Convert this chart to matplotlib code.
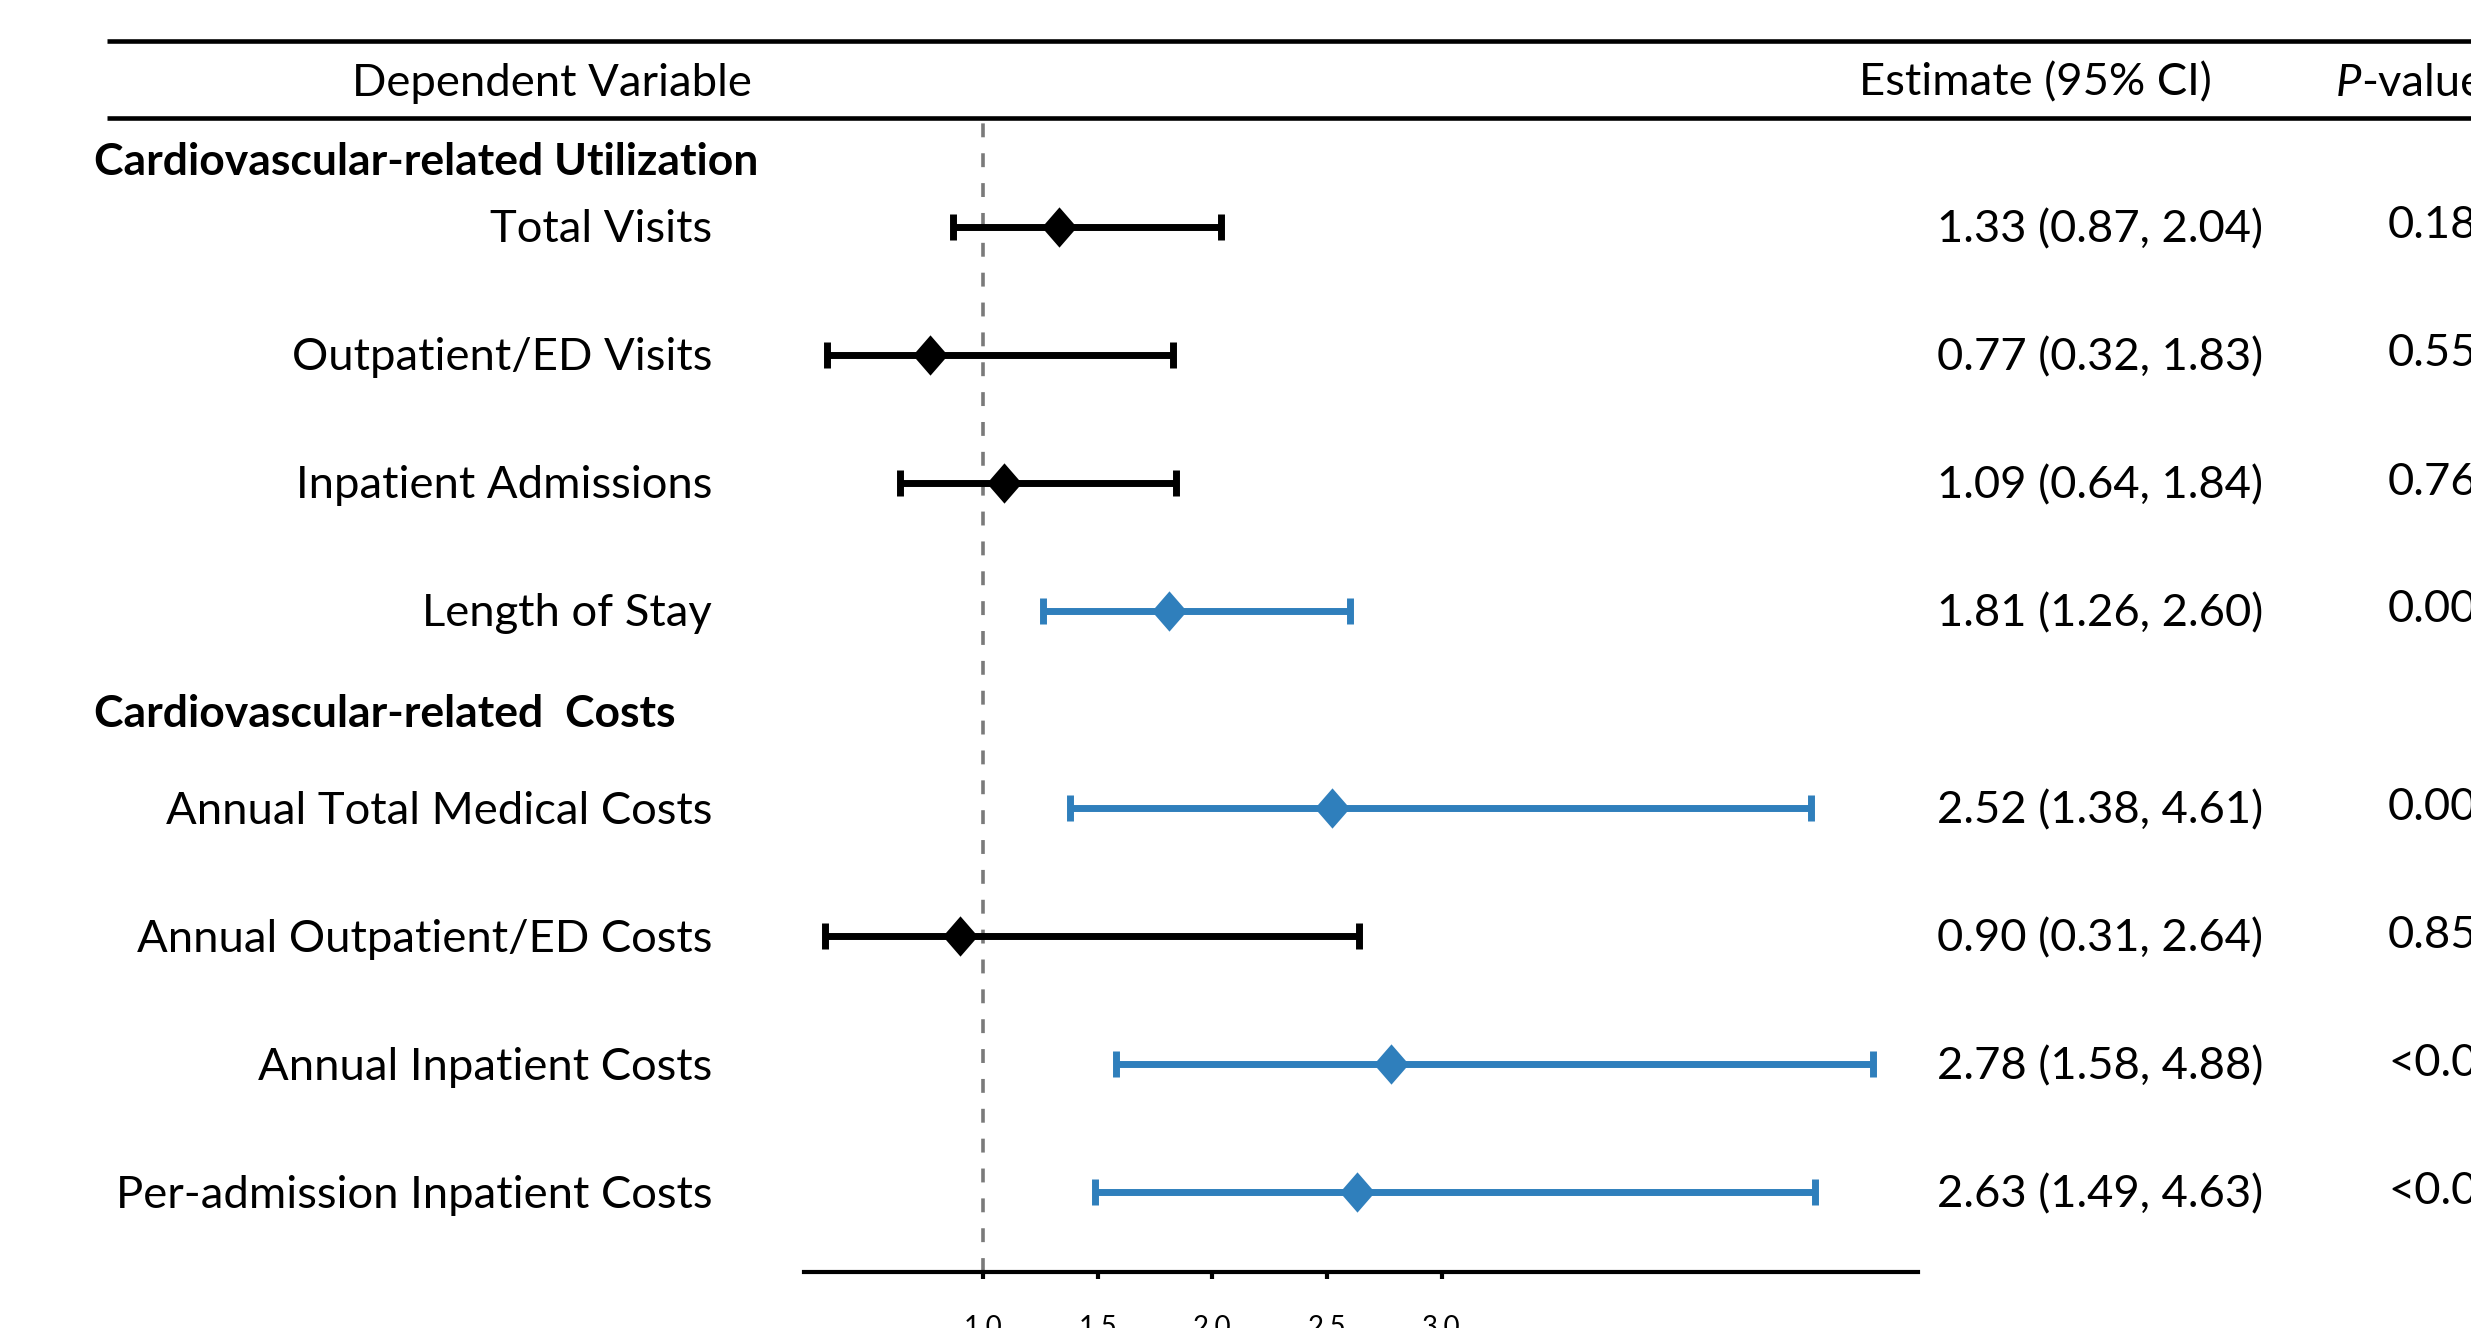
import matplotlib
matplotlib.use("Agg")
import matplotlib.pyplot as plt
from matplotlib.lines import Line2D

# ---- data -------------------------------------------------------------
util_labels = ["Total Visits", "Outpatient/ED Visits", "Inpatient Admissions",
               "Length of Stay"]
util_est = [1.33, 0.77, 1.09, 1.81]
util_lo = [0.87, 0.32, 0.64, 1.26]
util_hi = [2.04, 1.83, 1.84, 2.60]
util_p = ["0.18", "0.55", "0.76", "0.001"]

cost_labels = ["Annual Total Medical Costs", "Annual Outpatient/ED Costs",
               "Annual Inpatient Costs", "Per-admission Inpatient Costs"]
cost_est = [2.52, 0.90, 2.78, 2.63]
cost_lo = [1.38, 0.31, 1.58, 1.49]
cost_hi = [4.61, 2.64, 4.88, 4.63]
cost_p = ["0.003", "0.85", "<0.001", "<0.001"]

x_ticks = [1.0, 1.5, 2.0, 2.5, 3.0]
x_tick_labels = ["1.0", "1.5", "2.0", "2.5", "3.0"]
null_value = 1.0

group_titles = ["Cardiovascular-related Utilization", "Cardiovascular-related  Costs"]
col_headers = ["Dependent Variable", "Estimate (95% CI)", "-value"]

# ---- layout (pixel units) ----------------------------------------------
W, H, DPI = 2471, 1328, 100
FONT = "Lato"
FS = 32.7
FS_BOLD = 32.0
TXT_DY = 3          # small downward nudge so glyphs sit on the bar centres
BLACK = "#000000"
BLUE = "#2F7FBC"

plt.rcParams["font.family"] = [FONT, "DejaVu Sans"]
plt.rcParams["lines.scale_dashes"] = False

fig = plt.figure(figsize=(W / DPI, H / DPI), dpi=DPI)
fig.patch.set_facecolor("white")


def fx(x):
    return x / W


def fy(y):
    return 1 - y / H


ax_left, ax_right, ax_top, ax_bottom = 804, 1918, 117, 1272
ax = fig.add_axes([fx(ax_left), fy(ax_bottom), fx(ax_right - ax_left),
                   (ax_bottom - ax_top) / H])
px_per_unit = 229.3
x_at_null = 983
ax.set_xlim(null_value - (x_at_null - ax_left) / px_per_unit,
            null_value + (ax_right - x_at_null) / px_per_unit)
ax.set_ylim(ax_bottom, ax_top)

for s in ("top", "left", "right"):
    ax.spines[s].set_visible(False)
ax.spines["bottom"].set_linewidth(3.0)
ax.set_yticks([])
ax.set_xticks(x_ticks)
ax.set_xticklabels(x_tick_labels)
ax.tick_params(axis="x", direction="out", length=5, width=3, pad=26,
               labelsize=20)
ax.patch.set_alpha(0)

ax.axvline(null_value, color="#7A7A7A", lw=2.6, ls=(0, (10, 11.5)), zorder=1)

# row positions
step = 128
util_y = [227 + i * step for i in range(len(util_labels))]
cost_y = [808 + i * step for i in range(len(cost_labels))]
group_y = [159, 711]

diamond = [(0, 1), (0.87, 0), (0, -1), (-0.87, 0), (0, 1)]


def draw_rows(labels, est, lo, hi, pvals, ys):
    for lab, e, l, h, p, y in zip(labels, est, lo, hi, pvals, ys):
        color = BLUE if (l > null_value or h < null_value) else BLACK
        ax.errorbar([e], [y], xerr=[[e - l], [h - e]], fmt="none",
                    ecolor=color, elinewidth=5, capsize=9.4, capthick=5,
                    zorder=3)
        ax.plot([e], [y], marker=diamond, ms=29, color=color, mew=0,
                ls="none", zorder=4)
        ty = y + TXT_DY
        fig.text(fx(712), fy(ty), lab, ha="right", va="center", fontsize=FS)
        fig.text(fx(1937), fy(ty), f"{e:.2f} ({l:.2f}, {h:.2f})",
                 ha="left", va="center", fontsize=FS)
        fig.text(fx(2388), fy(ty - 4), p, ha="left", va="center", fontsize=FS)


draw_rows(util_labels, util_est, util_lo, util_hi, util_p, util_y)
draw_rows(cost_labels, cost_est, cost_lo, cost_hi, cost_p, cost_y)

for title, y in zip(group_titles, group_y):
    fig.text(fx(94), fy(y + TXT_DY), title, ha="left", va="center",
             fontsize=FS_BOLD, fontweight="bold")

# table header
for y in (41, 118):
    fig.add_artist(Line2D([fx(107), 1.0], [fy(y), fy(y)], transform=fig.transFigure,
                          color=BLACK, lw=3.3, solid_capstyle="butt"))
hy = 80 + TXT_DY
fig.text(fx(552), fy(hy), col_headers[0], ha="center", va="center", fontsize=FS)
fig.text(fx(2035), fy(hy), col_headers[1], ha="center", va="center", fontsize=FS)
p_txt = fig.text(fx(2336), fy(hy), "P", ha="left", va="center", fontsize=FS,
                 fontstyle="italic")
ax.annotate(col_headers[2], xy=(1, 0), xycoords=p_txt, ha="left", va="bottom",
            fontsize=FS, annotation_clip=False)

fig.savefig("out.png", dpi=DPI, facecolor="white")
